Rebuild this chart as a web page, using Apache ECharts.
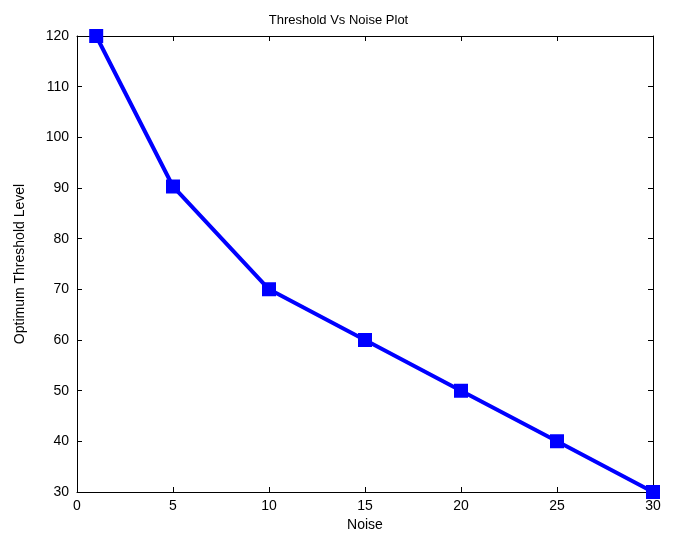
<!doctype html>
<html>
<head>
<meta charset="UTF-8">
<title>Threshold Vs Noise Plot</title>
<script src="https://cdn.jsdelivr.net/npm/echarts@6/dist/echarts.min.js"></script>
<style>
html, body { margin: 0; padding: 0; background: #fff; }
#chart { width: 677px; height: 542px; }
</style>
</head>
<body>
<div id="chart"></div>
<script>
// data
var noise = [1, 5, 10, 15, 20, 25, 30];
var threshold = [120, 90.3, 70, 60, 50, 40, 30];

var font = 'Liberation Sans, Arial, sans-serif';
var points = noise.map(function(n, i) { return [n, threshold[i]]; });

function axisBase(show) {
	return {
		axisLine: { show: true, onZero: false, lineStyle: { color: '#000', width: 1 } },
		axisTick: { show: true, inside: true, length: 5, lineStyle: { color: '#000' } },
		axisLabel: { show: show, color: '#000', fontSize: 14, fontFamily: font },
		splitLine: { show: false }
	};
}

var myChart = echarts.init(document.getElementById('chart'));
var xMain = Object.assign(axisBase(true), {
	type: 'value', position: 'bottom', min: 0, max: 30, interval: 5,
	name: 'Noise', nameLocation: 'middle', nameGap: 25,
	nameTextStyle: { color: '#000', fontSize: 14, fontFamily: font }
});
xMain.axisLabel.margin = 7;
var xTop = Object.assign(axisBase(false), { type: 'value', position: 'top', min: 0, max: 30, interval: 5 });
var yMain = Object.assign(axisBase(true), {
	type: 'value', position: 'left', min: 30, max: 120, interval: 10,
	name: 'Optimum Threshold Level', nameLocation: 'middle', nameGap: 50,
	nameTextStyle: { color: '#000', fontSize: 14, fontFamily: font }
});
yMain.axisLabel.margin = 8;
var yRight = Object.assign(axisBase(false), { type: 'value', position: 'right', min: 30, max: 120, interval: 10 });

myChart.setOption({
	backgroundColor: '#fff',
	animation: false,
	title: {
		text: 'Threshold Vs Noise Plot',
		left: 'center', top: 9,
		textStyle: { color: '#000', fontSize: 13, fontWeight: 'normal', fontFamily: font }
	},
	grid: { left: 77, right: 24, top: 36, bottom: 50 },
	xAxis: [xMain, xTop],
	yAxis: [yMain, yRight],
	series: [{
		type: 'line',
		data: points,
		xAxisIndex: 0,
		yAxisIndex: 0,
		symbol: 'rect',
		symbolSize: 11,
		clip: false,
		lineStyle: { color: '#0000ff', width: 4 },
		itemStyle: { color: '#0000ff', borderColor: '#0000ff', borderWidth: 3 }
	}]
});
</script>
</body>
</html>
